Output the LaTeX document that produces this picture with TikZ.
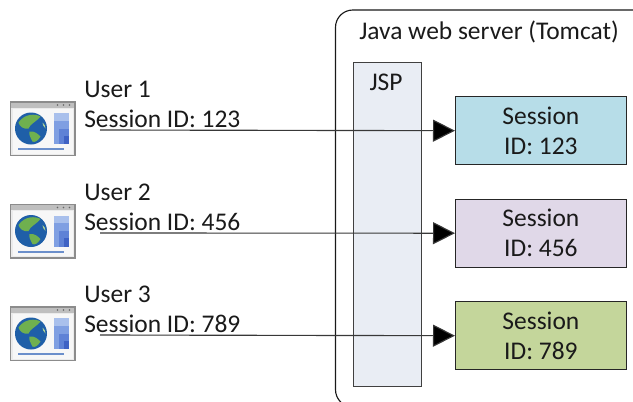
\documentclass[tikz,border=0pt]{standalone}
\usepackage{fontspec}
\setmainfont{Carlito}
\usetikzlibrary{arrows.meta}
\definecolor{sa}{HTML}{B7DDE8}
\definecolor{sb}{HTML}{E0D8E8}
\definecolor{sc}{HTML}{C4D69B}
\definecolor{jsp}{HTML}{E9EDF4}
\definecolor{ocean}{HTML}{1F5FA8}
\definecolor{land}{HTML}{6FB04F}
\definecolor{txtc}{HTML}{1A1A1A}
\definecolor{pa}{HTML}{A9C0EC}
\definecolor{pb}{HTML}{7F9FE2}
\definecolor{pc}{HTML}{5F82D6}
\definecolor{pd}{HTML}{3F62C4}
\definecolor{barc}{HTML}{6B8FCB}
\tikzset{
  txt/.style={font=\fontsize{19.1pt}{22.5pt}\selectfont, text=txtc, inner sep=0pt},
  sess/.style={draw=black!85, line width=0.85pt, minimum width=128pt, minimum height=51.2pt, align=center, txt},
  conn/.style={draw=black!78, line width=0.85pt, -{Triangle[length=16.5pt,width=16.5pt,fill=black]}},
  icon/.pic={
    \fill[black!45] (-33,-27.5) rectangle (33,27.5);
    \fill[black!8] (-31.5,-26) rectangle (31.5,26);
    \fill[black!25] (-31.5,-26) rectangle (31.5,-21);
    \fill[black!60] (15,-23.5) circle (0.9) (21,-23.5) circle (0.9) (27,-23.5) circle (0.9);
    \fill[black!3] (-30,-20) rectangle (30,25);
    \fill[pa] (11.5,-15.5) rectangle (26,15.5);
    \fill[pb] (11.5,-8) rectangle (26,15.5);
    \fill[pc] (16,0) rectangle (26,15.5);
    \fill[pd] (21,7) rectangle (26,15.5);
    \fill[ocean] (-11.5,0) circle (16);
    \fill[land] (-24,-6) .. controls (-18,-15) and (-7,-15) .. (-2,-12) .. controls (-7,-6) and (-12,-5) .. (-14,0) .. controls (-19,1) and (-23,-2) .. (-24,-6) -- cycle;
    \fill[land] (-13,3) .. controls (-8,2) and (-4,6) .. (-2,8) .. controls (-5,13) and (-8,14) .. (-10,13) .. controls (-12,9) and (-14,6) .. (-13,3) -- cycle;
    \fill[land!60!white] (0,-6) .. controls (2,-5) and (3,-2) .. (3,0) .. controls (1,-2) and (0,-4) .. (0,-6) -- cycle;
    \fill[barc] (-24.5,19.5) rectangle (21.5,21.5);
  }
}
\begin{document}
\begin{tikzpicture}[x=0.75pt,y=-0.75pt]
\useasboundingbox (0,0) rectangle (633,401);
\begin{scope}
\clip (0,0) rectangle (633,401);
\draw[line width=0.85pt, rounded corners=13pt, black!90] (660,10) -- (335.5,10) -- (335.5,407) -- (660,407);
\end{scope}
\node[txt, anchor=base] (title) at (489,39) {Java web server (Tomcat)};
\node[draw=black!75, fill=jsp, line width=0.85pt, minimum width=51.5pt, minimum height=243pt, anchor=north west, inner sep=0pt] (jspbox) at (352.5,62) {};
\node[txt, anchor=base] (jsplabel) at (386,90) {JSP};
\node[sess, fill=sa, anchor=north west] (s1) at (455,96) {\raisebox{0.4pt}{Session}\\\raisebox{0.4pt}{ID: 123}};
\node[sess, fill=sb, anchor=north west] (s2) at (455,198.5) {\raisebox{0.4pt}{Session}\\\raisebox{0.4pt}{ID: 456}};
\node[sess, fill=sc, anchor=north west] (s3) at (455,301) {\raisebox{0.4pt}{Session}\\\raisebox{0.4pt}{ID: 789}};
\pic at (42.5,128.5) {icon};
\pic at (42.5,231) {icon};
\pic at (42.5,333.5) {icon};
\node[txt, anchor=base west] (u1) at (84,97) {User 1};
\node[txt, anchor=base west] (i1) at (84,127.5) {Session ID: 123};
\node[txt, anchor=base west] (u2) at (84,200) {User 2};
\node[txt, anchor=base west] (i2) at (84,230.5) {Session ID: 456};
\node[txt, anchor=base west] (u3) at (84,302) {User 3};
\node[txt, anchor=base west] (i3) at (84,332.5) {Session ID: 789};
\coordinate (a1) at (100,130);
\coordinate (a2) at (100,233);
\coordinate (a3) at (100,335);
\draw[conn] (a1) -- (s1.west);
\draw[conn] (a2) -- (s2.west);
\draw[conn] (a3) -- (s3.west);
\end{tikzpicture}
\end{document}
